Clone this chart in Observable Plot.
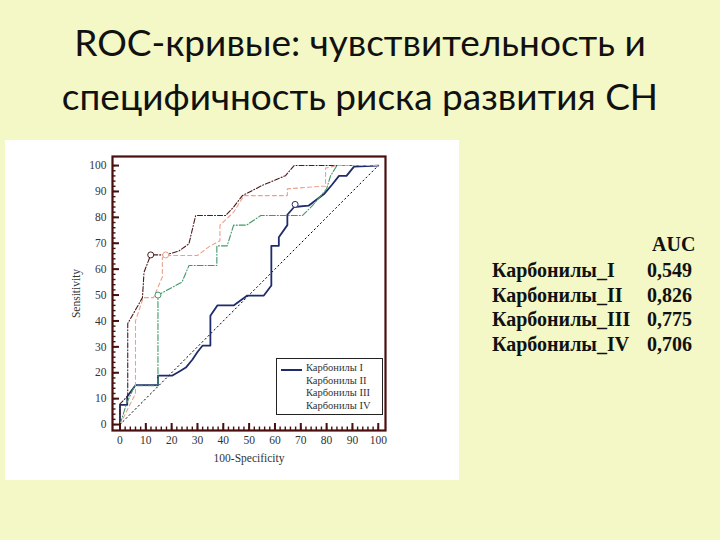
<!DOCTYPE html>
<html><head><meta charset="utf-8">
<script src="https://cdn.jsdelivr.net/npm/d3@7"></script>
<script src="https://cdn.jsdelivr.net/npm/@observablehq/plot@0.6"></script>
<style>
body{margin:0;background:#f3f8c6;width:720px;height:540px;position:relative;overflow:hidden}
#title{position:absolute;top:15px;left:0;width:720px;text-align:center;font-family:Lato,"Open Sans",sans-serif;font-size:37px;line-height:54px;color:#111}
#panel{position:absolute;left:5px;top:140px;width:454px;height:340px;background:#fff}
#legend{position:absolute;left:271px;top:218px;width:105px;height:55px;border:1px solid #222;background:#fff;font-family:"Liberation Serif",serif;font-size:10.5px;color:#333}
#legend div{position:absolute;left:29px;white-space:nowrap}
#auc{position:absolute;left:0;top:0;font-family:"Liberation Serif",serif;font-weight:bold;font-size:20px;color:#111}
#auc div{position:absolute;white-space:nowrap}
</style></head>
<body>
<div id="title">ROC-кривые: чувствительность и<br>специфичность риска развития СН</div>
<div id="panel"></div>
<div id="auc"></div>
<script>
const seriesNames = ["Карбонилы I","Карбонилы II","Карбонилы III","Карбонилы IV"];
const aucLabels = ["Карбонилы_I","Карбонилы_II","Карбонилы_III","Карбонилы_IV"];
const aucValues = ["0,549","0,826","0,775","0,706"];
const colors = ["#1f2c6b","#4a1c1c","#3f9a68","#eda08c"];
const dashes = [null,"5,2,1,2","6,2,1,2","4,3"];
const widths = [1.8,1.1,1.1,1.1];

const fprI  = [0,0,2.8,2.8,6,14.7,14.7,20.3,23,25.5,28,30,32,35,35,37.7,44,49.3,55.7,58.6,58.6,61.5,61.5,64.8,64.8,67.4,73,79,82,84.8,87.7,90.6,100];
const sensI = [0,7.6,7.6,10.8,15.2,15.2,18.9,18.9,20.5,22,25,28,30.5,30.5,42,46,46,49.8,49.8,53.7,69,69,72.3,77,81,84,84.5,89,92.5,96,96,99.6,100];
const fprII  = [0,0,3,3,8.7,9.3,11.9,17.7,22.8,26.7,29.3,40.9,44,47.4,55,64.1,67.4,100];
const sensII = [0,8,11,39,49,58.8,65.5,65.5,67,69.8,80.7,80.7,84,88.4,92.3,96.1,100,100];
const fprIII  = [0,2.5,5.7,14.7,14.7,24,26.7,37.5,37.5,41.5,44,49,54.5,70.6,74.5,80,81.5,84,100];
const sensIII = [0,8,15,15,50,55,61.4,61.4,69,69,77,77,80.7,80.7,84.5,91,96,100,100];
const fprIV  = [0,6,6,9,13,16.4,16.4,18.3,30,34.5,38.7,38.7,44,48,64.8,64.8,77.7,79.6,79.6,84,100];
const sensIV = [0,12,40,49,49,57,64.6,65.3,65.3,68.7,71,77,82,88.4,88.4,91,92,92,99,100,100];
const cutFpr  = [67.8,11.9,14.7,17.7];
const cutSens = [85,65.5,50,65.5];
const cutSeries = [0,1,2,3];
const diagX = [0,100], diagY = [0,100];
const majorTicks = [0,10,20,30,40,50,60,70,80,90,100];
const minorTicks = d3.range(0,101,2);

const fprs=[fprI,fprII,fprIII,fprIV], senss=[sensI,sensII,sensIII,sensIV];
const seriesRows = fprs.map((f,i)=>f.map((x,j)=>({x, y:senss[i][j]})));
const diag = diagX.map((x,i)=>({x,y:diagY[i]}));
const cuts = cutFpr.map((x,i)=>({x,y:cutSens[i],s:cutSeries[i]}));

const frameColor = "#4a0e0e";
const plot = Plot.plot({
  width:454, height:340, marginLeft:107, marginRight:74, marginTop:16, marginBottom:50,
  style:{fontFamily:"'Liberation Serif',serif", fontSize:"11.5px", color:"#333", background:"transparent", overflow:"visible"},
  x:{domain:[-2.9,102.8]}, y:{domain:[-2.3,103.5]},
  marks:[
    Plot.line(diag,{x:"x",y:"y",stroke:"#000",strokeDasharray:"1.3,3",strokeWidth:1}),
    ...seriesRows.map((rows,i)=>Plot.line(rows,{x:"x",y:"y",stroke:colors[i],strokeWidth:widths[i],strokeDasharray:dashes[i]})),
    Plot.dot(cuts,{x:"x",y:"y",r:3,fill:"white",stroke:d=>colors[d.s],strokeWidth:1}),
    Plot.axisX(minorTicks,{tickSize:-3.5,tickFormat:()=>"",label:null,stroke:frameColor,strokeWidth:1.4}),
    Plot.axisX(majorTicks,{tickSize:-7,tickFormat:()=>"",label:null,stroke:frameColor,strokeWidth:2}),
    Plot.axisY(minorTicks,{tickSize:-3.5,tickFormat:()=>"",label:null,stroke:frameColor,strokeWidth:1.4}),
    Plot.axisY(majorTicks,{tickSize:-7,tickFormat:()=>"",label:null,stroke:frameColor,strokeWidth:2}),
    Plot.axisX(majorTicks,{tickSize:0,tickPadding:5,label:"100-Specificity",labelAnchor:"center",labelArrow:"none",labelOffset:31}),
    Plot.axisY(majorTicks,{tickSize:0,tickPadding:6,label:"Sensitivity",labelAnchor:"center",labelArrow:"none",labelOffset:41}),
    Plot.frame({stroke:frameColor,strokeWidth:2.2})
  ]
});
const panel = document.getElementById("panel");
panel.appendChild(plot);
plot.style.position="absolute"; plot.style.left="0"; plot.style.top="0";

const legend = document.createElement("div");
legend.id="legend";
seriesNames.forEach((n,i)=>{
  const d=document.createElement("div");
  d.textContent=n; d.style.top=(3+i*12.5)+"px";
  legend.appendChild(d);
});
const sample=document.createElement("span");
sample.style.cssText=`position:absolute;left:4px;top:10px;width:21px;height:0;border-top:2px solid ${colors[0]}`;
legend.appendChild(sample);
panel.appendChild(legend);

const auc=document.getElementById("auc");
const hdr=document.createElement("div");
hdr.textContent="AUC"; hdr.style.left="652px"; hdr.style.top="233px";
auc.appendChild(hdr);
aucLabels.forEach((l,i)=>{
  const a=document.createElement("div"); a.textContent=l; a.style.left="492px"; a.style.top=(259+i*24.5)+"px";
  const b=document.createElement("div"); b.textContent=aucValues[i]; b.style.left="647px"; b.style.top=(259+i*24.5)+"px";
  auc.appendChild(a); auc.appendChild(b);
});
</script>
</body></html>
